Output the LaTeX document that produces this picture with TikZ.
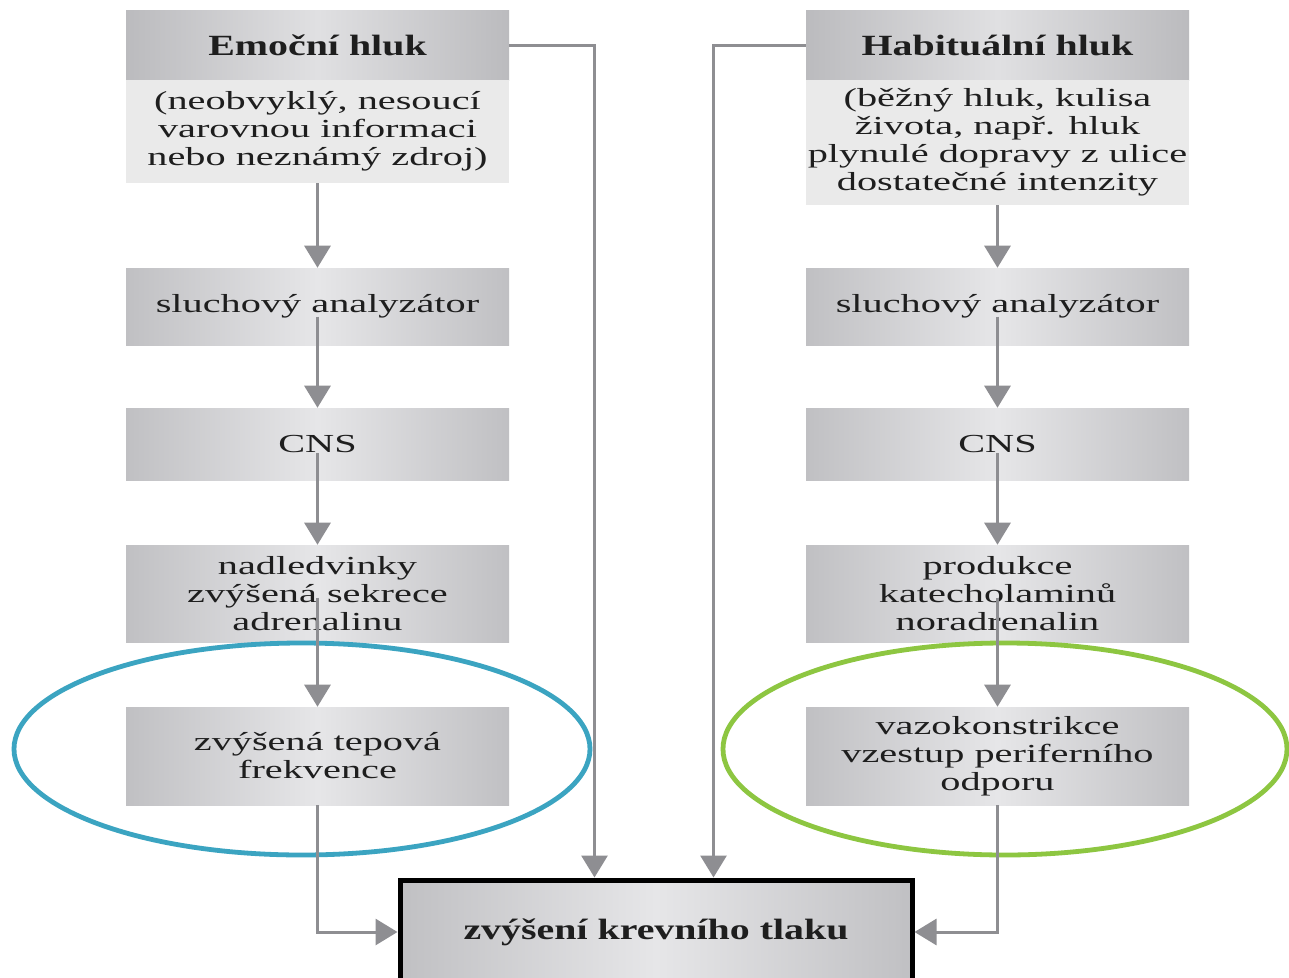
\documentclass[tikz,border=0pt]{standalone}
\usepackage{fontspec}
\setmainfont{Liberation Serif}[FakeStretch=1.55]
\newfontfamily\hdfont{Liberation Serif}[FakeStretch=1.36]
\usetikzlibrary{arrows.meta,calc}
\definecolor{linegray}{HTML}{8E8E92}
\definecolor{boxin}{HTML}{E6E6E8}
\definecolor{boxout}{HTML}{C0C0C3}
\definecolor{headin}{HTML}{E0E0E2}
\definecolor{headout}{HTML}{BBBBBE}
\definecolor{bodygray}{HTML}{EAEAEA}
\definecolor{txt}{HTML}{1E1E1E}
\definecolor{ellblue}{HTML}{3BA4C1}
\definecolor{ellgreen}{HTML}{8DC641}
\begin{document}
\begin{tikzpicture}[x=0.75pt,y=-0.75pt,
  base/.style={rectangle, inner sep=0pt, minimum width=287.25pt, align=center, text=txt,
    font=\fontsize{19.5}{21}\selectfont},
  stepbox/.style={base, left color=boxout, right color=boxout, middle color=boxin},
  headbox/.style={base, left color=headout, right color=headout, middle color=headin,
    font=\hdfont\bfseries\fontsize{22}{24}\selectfont},
  bodybox/.style={base, fill=bodygray},
  finalbox/.style={base, draw=black, line width=3.75pt, left color=boxout, right color=boxout, middle color=boxin,
    minimum width=384pt, minimum height=78pt, font=\hdfont\bfseries\fontsize{22}{24}\selectfont},
  arr/.style={draw=linegray, line width=2.25pt, -{Triangle[width=19.5pt,length=16.5pt]}},
  ring/.style={line width=3.6pt}]
\clip (0,0) rectangle (1289,978);
\fill[white] (0,0) rectangle (1289,978);

% left column
\node[headbox, minimum height=52.5pt] (L0h) at (317.5,45) {Emoční hluk};
\node[bodybox, minimum height=77.25pt] (L0b) at (317.5,131.5) {(neobvyklý, nesoucí\\varovnou informaci\\nebo neznámý zdroj)};
\node[stepbox, minimum height=57.75pt] (L1) at (317.5,306.5) {sluchový analyzátor};
\node[stepbox, minimum height=54pt] (L2) at (317.5,444) {CNS};
\node[stepbox, minimum height=72.75pt] (L3) at (317.5,593.5) {nadledvinky\\zvýšená sekrece\\adrenalinu};
\node[stepbox, minimum height=73.5pt] (L4) at (317.5,756) {zvýšená tepová\\frekvence};

% right column
\node[headbox, minimum height=52.5pt] (R0h) at (997.5,45) {Habituální hluk};
\node[bodybox, minimum height=93.75pt] (R0b) at (997.5,142.5) {(běžný hluk, kulisa\\života, např. hluk\\plynulé dopravy z ulice\\dostatečné intenzity};
\node[stepbox, minimum height=57.75pt] (R1) at (997.5,306.5) {sluchový analyzátor};
\node[stepbox, minimum height=54pt] (R2) at (997.5,444) {CNS};
\node[stepbox, minimum height=72.75pt] (R3) at (997.5,593.5) {produkce\\katecholaminů\\noradrenalin};
\node[stepbox, minimum height=73.5pt] (R4) at (997.5,756) {vazokonstrikce\\vzestup periferního\\odporu};

% final box
\node[finalbox] (bot) at (656,932) {zvýšení krevního tlaku};

% ellipses
\draw[ring, ellblue] (302,749) ellipse [x radius=216pt, y radius=79.5pt];
\draw[ring, ellgreen] (1005,749) ellipse [x radius=211.5pt, y radius=79.5pt];

% connectors
\draw[arr] (L0b.south) -- (L1.north);
\draw[arr] ($(L1.center)+(0,10)$) -- (L2.north);
\draw[arr] ($(L2.center)+(0,9)$) -- (L3.north);
\draw[arr] ($(L3.center)+(0,4)$) -- (L4.north);
\draw[arr] (L4.south) |- (bot.west);
\draw[arr] (L0h.east) -| ($(bot.north west)+(197,0)$);

\draw[arr] (R0b.south) -- (R1.north);
\draw[arr] ($(R1.center)+(0,10)$) -- (R2.north);
\draw[arr] ($(R2.center)+(0,9)$) -- (R3.north);
\draw[arr] ($(R3.center)+(0,4)$) -- (R4.north);
\draw[arr] (R4.south) |- (bot.east);
\draw[arr] (R0h.west) -| ($(bot.north west)+(316,0)$);
\end{tikzpicture}
\end{document}
